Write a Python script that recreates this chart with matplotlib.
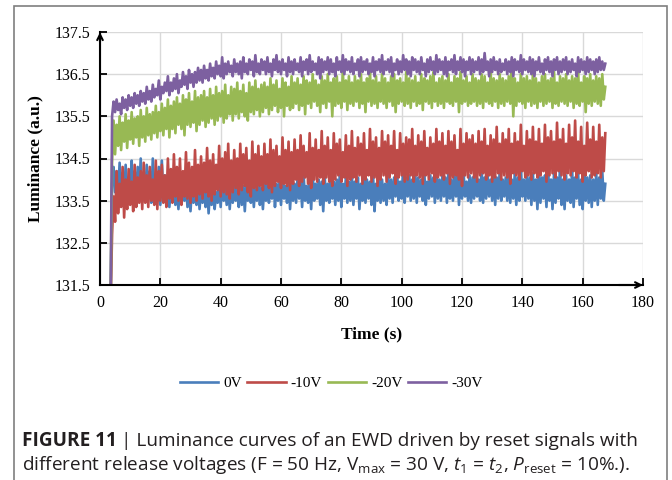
import numpy as np
import matplotlib.pyplot as plt
from matplotlib.patches import Rectangle

plt.rcParams['font.family'] = ['Liberation Serif', 'DejaVu Serif']
plt.rcParams['mathtext.fontset'] = 'custom'
plt.rcParams['mathtext.rm'] = 'Open Sans'
plt.rcParams['mathtext.it'] = 'Open Sans:italic'

# one low and one high reading per second, from t = 4 s to 167 s
seconds = list(range(4, 168))
t_start, lum_start = 3.5, 131.0

blue_lo = [
    133.9, 133.7, 133.6, 133.75, 133.5, 133.65, 133.8, 133.55, 133.6, 133.7,
    133.5, 133.65, 133.55, 133.45, 133.6, 133.5, 133.4, 133.55, 133.45, 133.35,
    133.5, 133.4, 133.3, 133.45, 133.5, 133.35, 133.25, 133.45, 133.4, 133.3,
    133.45, 133.35, 133.2, 133.4, 133.3, 133.45, 133.35, 133.5, 133.4, 133.3,
    133.45, 133.5, 133.35, 133.4, 133.25, 133.5, 133.45, 133.35, 133.5, 133.4,
    133.3, 133.5, 133.45, 133.55, 133.35, 133.5, 133.4, 133.55, 133.45, 133.3,
    133.5, 133.45, 133.55, 133.35, 133.5, 133.45, 133.3, 133.5, 133.55, 133.4,
    133.25, 133.5, 133.45, 133.55, 133.4, 133.5, 133.35, 133.55, 133.45, 133.5,
    133.4, 133.55, 133.3, 133.5, 133.45, 133.55, 133.4, 133.25, 133.5, 133.45,
    133.5, 133.4, 133.55, 133.45, 133.6, 133.5, 133.55, 133.45, 133.6, 133.5,
    133.55, 133.45, 133.6, 133.5, 133.4, 133.55, 133.6, 133.45, 133.55, 133.5,
    133.6, 133.45, 133.55, 133.5, 133.6, 133.4, 133.55, 133.6, 133.5, 133.45,
    133.55, 133.6, 133.5, 133.45, 133.55, 133.6, 133.5, 133.4, 133.55, 133.5,
    133.6, 133.5, 133.45, 133.55, 133.4, 133.5, 133.6, 133.5, 133.55, 133.4,
    133.5, 133.3, 133.45, 133.55, 133.35, 133.5, 133.3, 133.45, 133.55, 133.4,
    133.3, 133.5, 133.45, 133.35, 133.55, 133.4, 133.3, 133.5, 133.45, 133.35,
    133.5, 133.4, 133.55, 133.5]
blue_hi = [
    134.3, 134.2, 134.4, 134.15, 134.35, 134.05, 134.45, 134.2, 134.3, 134.5,
    134.1, 134.35, 134.2, 134.5, 134.0, 134.3, 134.45, 134.1, 133.95, 133.85,
    134.0, 133.8, 133.9, 133.75, 133.95, 133.8, 133.85, 133.7, 133.9, 133.8,
    133.75, 133.9, 133.8, 133.85, 133.7, 133.95, 134.1, 133.8, 133.9, 133.85,
    133.95, 133.8, 134.0, 133.85, 133.9, 134.0, 133.85, 133.95, 134.05, 133.8,
    133.9, 134.0, 133.85, 134.1, 133.9, 133.95, 134.05, 133.85, 134.1, 133.95,
    133.9, 134.05, 133.95, 134.1, 133.85, 134.0, 134.15, 133.9, 134.0, 133.95,
    134.05, 133.9, 134.1, 133.95, 134.0, 134.15, 133.9, 134.05, 133.95, 134.1,
    133.95, 134.05, 133.9, 134.1, 134.0, 133.95, 134.15, 133.9, 134.05, 134.0,
    133.9, 134.1, 134.0, 134.05, 134.15, 133.95, 134.3, 134.05, 134.1, 134.0,
    134.15, 134.05, 134.0, 134.2, 133.95, 134.1, 134.05, 134.15, 134.0, 134.1,
    134.05, 134.2, 134.0, 134.1, 134.15, 134.05, 134.2, 133.95, 134.1, 134.05,
    134.15, 134.0, 134.25, 134.05, 134.1, 134.0, 134.15, 134.05, 134.2, 134.0,
    134.05, 134.1, 134.0, 134.15, 134.05, 134.25, 134.0, 134.1, 134.05, 134.15,
    134.0, 134.2, 134.05, 134.1, 134.35, 134.0, 134.15, 134.05, 134.3, 134.0,
    134.1, 134.0, 134.25, 134.05, 134.15, 134.0, 134.35, 134.05, 134.1, 134.0,
    134.15, 134.05, 134.2, 133.9]

red_lo = [
    132.7, 133.0, 133.2, 133.35, 133.1, 133.3, 133.4, 133.25, 133.35, 133.45,
    133.3, 133.45, 133.35, 133.5, 133.4, 133.3, 133.5, 133.45, 133.35, 133.55,
    133.45, 133.6, 133.5, 133.4, 133.6, 133.55, 133.45, 133.6, 133.5, 133.65,
    133.55, 133.7, 133.6, 133.5, 133.65, 133.75, 133.6, 133.7, 133.65, 133.55,
    133.7, 133.8, 133.65, 133.75, 133.85, 133.7, 133.6, 133.8, 133.75, 133.85,
    133.75, 133.9, 133.8, 133.7, 133.85, 133.95, 133.8, 133.9, 133.85, 133.75,
    133.9, 134.0, 133.85, 133.95, 134.05, 133.9, 133.8, 134.0, 133.95, 134.05,
    133.9, 134.05, 133.95, 133.85, 134.0, 134.1, 133.95, 134.05, 133.85, 134.0,
    134.05, 133.95, 134.1, 133.9, 134.0, 134.1, 133.95, 134.05, 133.85, 134.0,
    134.1, 133.95, 134.05, 134.15, 133.9, 134.05, 134.1, 133.95, 134.0, 134.1,
    133.95, 134.1, 134.05, 133.9, 134.1, 134.0, 134.15, 133.95, 134.05, 134.1,
    134.0, 134.15, 133.9, 134.05, 134.1, 134.0, 133.85, 134.1, 134.05, 134.15,
    134.05, 133.95, 134.1, 134.15, 134.0, 134.1, 133.95, 134.05, 134.15, 134.0,
    134.1, 134.05, 133.9, 134.15, 134.1, 134.0, 134.2, 134.05, 134.1, 134.0,
    134.15, 134.05, 134.1, 134.2, 133.95, 134.1, 134.15, 134.05, 134.2, 134.1,
    134.0, 134.15, 134.1, 134.2, 134.05, 134.15, 133.95, 134.1, 134.2, 134.05,
    134.1, 134.15, 134.05, 134.2]
red_hi = [
    133.6, 134.2, 133.9, 134.3, 134.0, 134.25, 133.95, 134.35, 134.05, 134.2,
    134.4, 134.1, 134.3, 134.0, 134.45, 134.2, 134.35, 134.1, 134.5, 134.25,
    134.6, 134.3, 134.5, 134.2, 134.65, 134.4, 134.3, 134.7, 134.35, 134.55,
    134.4, 134.75, 134.45, 134.6, 134.35, 134.8, 134.5, 134.65, 134.85, 134.45,
    134.7, 134.5, 134.85, 134.6, 134.75, 134.45, 134.9, 134.6, 134.8, 134.55,
    134.85, 134.6, 134.95, 134.7, 134.8, 134.55, 135.0, 134.7, 134.9, 134.65,
    134.95, 134.7, 135.05, 134.8, 134.65, 135.1, 134.75, 134.95, 134.7, 135.15,
    134.8, 135.0, 134.7, 135.1, 134.85, 134.95, 134.65, 135.05, 134.8, 135.15,
    134.75, 135.0, 134.85, 135.1, 134.7, 135.2, 134.9, 135.0, 134.75, 135.15,
    134.9, 135.05, 134.8, 135.15, 134.7, 135.1, 134.85, 135.0, 134.95, 135.2,
    134.8, 135.05, 134.9, 135.15, 134.75, 135.0, 134.85, 135.2, 134.9, 135.1,
    134.8, 135.15, 134.9, 135.05, 134.7, 135.2, 134.85, 135.1, 134.95, 135.05,
    134.85, 135.15, 134.9, 135.2, 134.8, 135.05, 134.95, 135.25, 134.85, 135.1,
    134.95, 135.2, 134.85, 135.1, 134.9, 135.3, 134.8, 135.15, 134.95, 135.25,
    134.9, 135.2, 134.85, 135.3, 135.0, 135.15, 134.9, 135.35, 134.95, 135.2,
    134.85, 135.3, 135.0, 135.4, 134.9, 135.25, 134.8, 135.35, 134.95, 135.25,
    134.9, 135.3, 135.0, 135.1]

green_lo = [
    134.4, 134.6, 134.8, 134.7, 134.9, 134.75, 134.95, 134.85, 135.0, 134.8,
    135.0, 134.9, 135.05, 134.95, 135.1, 135.0, 135.15, 135.05, 135.2, 135.0,
    135.2, 135.1, 135.3, 135.2, 135.05, 135.3, 135.25, 135.35, 135.15, 135.3,
    135.4, 135.25, 135.35, 135.45, 135.3, 135.4, 135.5, 135.35, 135.45, 135.55,
    135.4, 135.55, 135.45, 135.6, 135.5, 135.4, 135.6, 135.55, 135.65, 135.5,
    135.6, 135.7, 135.55, 135.65, 135.75, 135.6, 135.7, 135.5, 135.75, 135.65,
    135.7, 135.8, 135.65, 135.75, 135.55, 135.8, 135.7, 135.85, 135.75, 135.6,
    135.8, 135.7, 135.85, 135.5, 135.75, 135.8, 135.7, 135.85, 135.65, 135.8,
    135.75, 135.85, 135.7, 135.8, 135.6, 135.85, 135.75, 135.8, 135.7, 135.85,
    135.8, 135.7, 135.85, 135.75, 135.6, 135.8, 135.85, 135.75, 135.8, 135.7,
    135.85, 135.75, 135.8, 135.65, 135.85, 135.8, 135.7, 135.85, 135.75, 135.8,
    135.7, 135.85, 135.8, 135.75, 135.85, 135.6, 135.8, 135.85, 135.75, 135.8,
    135.85, 135.75, 135.8, 135.7, 135.85, 135.8, 135.75, 135.85, 135.7, 135.8,
    135.75, 135.85, 135.8, 135.5, 135.75, 135.85, 135.8, 135.7, 135.85, 135.75,
    135.8, 135.7, 135.85, 135.75, 135.8, 135.85, 135.7, 135.8, 135.75, 135.85,
    135.8, 135.75, 135.85, 135.7, 135.8, 135.75, 135.85, 135.6, 135.8, 135.75,
    135.85, 135.8, 135.75, 135.9]
green_hi = [
    135.4, 135.3, 135.5, 135.35, 135.55, 135.4, 135.6, 135.45, 135.5, 135.65,
    135.5, 135.7, 135.55, 135.6, 135.75, 135.6, 135.8, 135.7, 135.9, 135.75,
    135.85, 135.95, 135.8, 136.0, 135.9, 136.05, 135.85, 136.1, 135.95, 136.0,
    136.1, 135.95, 136.15, 136.0, 136.2, 136.05, 136.1, 136.25, 136.0, 136.2,
    136.15, 136.3, 136.1, 136.25, 136.05, 136.3, 136.2, 136.35, 136.15, 136.25,
    136.3, 136.2, 136.4, 136.25, 136.35, 136.15, 136.4, 136.3, 136.2, 136.45,
    136.3, 136.4, 136.25, 136.45, 136.35, 136.3, 136.5, 136.35, 136.25, 136.45,
    136.35, 136.5, 136.3, 136.4, 136.45, 136.3, 136.55, 136.35, 136.45, 136.3,
    136.45, 136.35, 136.5, 136.3, 136.4, 136.55, 136.35, 136.45, 136.3, 136.5,
    136.4, 136.3, 136.45, 136.5, 136.35, 136.4, 136.3, 136.55, 136.4, 136.35,
    136.45, 136.3, 136.5, 136.4, 136.35, 136.45, 136.55, 136.3, 136.4, 136.45,
    136.35, 136.5, 136.3, 136.45, 136.4, 136.55, 136.35, 136.45, 136.3, 136.5,
    136.4, 136.35, 136.5, 136.45, 136.3, 136.55, 136.4, 136.35, 136.5, 136.4,
    136.35, 136.45, 136.6, 136.4, 136.3, 136.5, 136.4, 136.45, 136.35, 136.5,
    136.4, 136.3, 136.45, 136.5, 136.35, 136.4, 136.55, 136.3, 136.45, 136.4,
    136.5, 136.35, 136.45, 136.4, 136.55, 136.3, 136.45, 136.4, 136.5, 136.35,
    136.45, 136.4, 136.5, 136.2]

purple_lo = [
    135.5, 135.6, 135.65, 135.55, 135.7, 135.65, 135.75, 135.7, 135.8, 135.75,
    135.85, 135.8, 135.9, 135.85, 135.95, 136.0, 135.9, 136.05, 136.1, 136.0,
    136.1, 136.15, 136.05, 136.2, 136.25, 136.15, 136.3, 136.2, 136.3, 136.35,
    136.3, 136.4, 136.35, 136.45, 136.4, 136.5, 136.45, 136.4, 136.5, 136.55,
    136.45, 136.55, 136.5, 136.4, 136.55, 136.5, 136.6, 136.45, 136.55, 136.5,
    136.6, 136.5, 136.55, 136.45, 136.6, 136.55, 136.5, 136.6, 136.45, 136.55,
    136.5, 136.6, 136.55, 136.45, 136.6, 136.5, 136.55, 136.6, 136.5, 136.4,
    136.55, 136.6, 136.5, 136.55, 136.45, 136.6, 136.55, 136.5, 136.6, 136.55,
    136.5, 136.6, 136.45, 136.55, 136.6, 136.5, 136.55, 136.45, 136.6, 136.55,
    136.5, 136.6, 136.55, 136.45, 136.6, 136.5, 136.55, 136.6, 136.5, 136.45,
    136.6, 136.55, 136.5, 136.6, 136.45, 136.55, 136.6, 136.5, 136.55, 136.6,
    136.5, 136.45, 136.6, 136.55, 136.5, 136.6, 136.55, 136.45, 136.6, 136.5,
    136.55, 136.6, 136.5, 136.55, 136.6, 136.45, 136.55, 136.6, 136.5, 136.55,
    136.6, 136.5, 136.55, 136.45, 136.6, 136.55, 136.5, 136.6, 136.55, 136.5,
    136.45, 136.6, 136.55, 136.5, 136.6, 136.55, 136.45, 136.6, 136.5, 136.55,
    136.6, 136.5, 136.55, 136.6, 136.45, 136.55, 136.6, 136.5, 136.55, 136.6,
    136.5, 136.55, 136.6, 136.6]
purple_hi = [
    135.85, 135.9, 135.8, 135.95, 135.9, 136.0, 135.95, 136.05, 136.0, 136.1,
    136.05, 136.2, 136.1, 136.25, 136.15, 136.35, 136.2, 136.3, 136.45, 136.3,
    136.4, 136.5, 136.35, 136.55, 136.45, 136.6, 136.5, 136.55, 136.65, 136.6,
    136.7, 136.6, 136.75, 136.65, 136.8, 136.7, 136.9, 136.75, 136.8, 136.7,
    136.85, 136.75, 136.8, 136.9, 136.75, 136.85, 136.8, 136.95, 136.75, 136.85,
    136.8, 136.9, 136.75, 136.85, 136.95, 136.8, 136.85, 136.75, 136.9, 136.8,
    136.85, 136.75, 136.9, 136.8, 136.85, 136.95, 136.8, 136.75, 136.9, 136.85,
    136.8, 136.9, 136.85, 136.75, 136.9, 136.8, 136.95, 136.85, 136.8, 136.9,
    136.75, 136.85, 136.9, 136.8, 136.85, 136.75, 136.9, 136.8, 136.85, 136.95,
    136.8, 136.85, 136.9, 136.75, 136.85, 136.8, 136.95, 136.85, 136.8, 136.9,
    136.85, 136.8, 136.9, 136.75, 136.85, 136.9, 136.8, 136.95, 136.85, 136.8,
    136.9, 136.8, 136.85, 136.95, 136.8, 136.9, 136.85, 136.8, 136.9, 136.85,
    136.8, 136.9, 136.85, 137.0, 136.8, 136.85, 136.9, 136.8, 136.85, 136.75,
    136.85, 136.8, 136.9, 136.85, 136.8, 136.95, 136.85, 136.8, 136.9, 136.85,
    136.8, 136.9, 136.75, 136.85, 136.9, 136.8, 136.85, 136.9, 136.8, 136.85,
    136.9, 136.8, 136.85, 136.75, 136.9, 136.85, 136.8, 136.9, 136.85, 136.8,
    136.85, 136.9, 136.8, 136.75]

series = [('0V', blue_lo, blue_hi, '#4a7ebb'),
          ('-10V', red_lo, red_hi, '#be4b48'),
          ('-20V', green_lo, green_hi, '#98b954'),
          ('-30V', purple_lo, purple_hi, '#7d60a0')]

x_ticks = np.arange(0, 181, 20)
y_ticks = [131.5, 132.5, 133.5, 134.5, 135.5, 136.5, 137.5]

fig = plt.figure(figsize=(6.72, 4.8), dpi=100)
ax = fig.add_axes([100/672, 1-285/480, 543/672, 253/480])

sec = np.array(seconds, dtype=float)
for name, lo, hi, col in series:
    # low reading on the second, high reading half a second later
    tt = np.concatenate([[t_start], np.column_stack([sec, sec + 0.5]).ravel()])
    yy = np.concatenate([[lum_start], np.column_stack([lo, hi]).ravel()])
    ax.plot(tt, yy, color=col, lw=1.9, label=name)

ax.set_xlim(0, 180)
ax.set_ylim(131.5, 137.5)
ax.set_xticks(x_ticks)
ax.set_yticks(y_ticks)
ax.set_yticklabels(['%.1f' % v for v in y_ticks])
ax.grid(True, color='#d9d9d9', lw=1.0)
ax.set_axisbelow(True)
for s in ['top', 'right']:
    ax.spines[s].set_visible(False)
for s in ['left', 'bottom']:
    ax.spines[s].set_linewidth(1.5)
ax.tick_params(direction='in', length=5, width=1.3, labelsize=11.5, pad=7)

# arrow heads on the axes
ax.annotate('', xy=(0, 1.01), xytext=(0, 0.95), xycoords='axes fraction',
            arrowprops=dict(arrowstyle='->', color='black', lw=1.5))
ax.annotate('', xy=(1.005, 0), xytext=(0.95, 0), xycoords='axes fraction',
            arrowprops=dict(arrowstyle='->', color='black', lw=1.5))

ax.set_ylabel('Luminance (a.u.)', fontsize=12.5, fontweight='bold')
ax.yaxis.set_label_coords(-0.105, 0.5)
ax.set_xlabel('Time (s)', fontsize=12.5, fontweight='bold')
ax.xaxis.set_label_coords(0.5, -0.165)

fig.legend(loc='center', bbox_to_anchor=(0.493, 0.202), ncol=4, frameon=False,
           fontsize=11, handlelength=2.5, handletextpad=0.35, columnspacing=0.35)

# caption
cap = '#231f20'
t1 = fig.text(22/672, 1-441/480, 'FIGURE 11', fontsize=13.7, fontweight='bold',
              family='Open Sans', color=cap, va='center')
fig.canvas.draw()
bb = t1.get_window_extent()
fig.text(bb.x1/672 + 4/672, 1-441/480,
         '| Luminance curves of an EWD driven by reset signals with',
         fontsize=13.7, family='Open Sans', color=cap, va='center')
fig.text(22/672, 1-465/480,
         r'different release voltages (F = 50 Hz, V$_{\mathrm{max}}$ = 30 V, '
         r'$t_1$ = $t_2$, $P_{\mathrm{reset}}$ = 10%.).',
         fontsize=13.7, family='Open Sans', color=cap, va='center')

fig.add_artist(Rectangle((14/672, -0.02), 653/672, 1.02 - 6/480, transform=fig.transFigure,
                         fill=False, ec='#7f7f7f', lw=1.2))

fig.savefig('out.png', dpi=100)
